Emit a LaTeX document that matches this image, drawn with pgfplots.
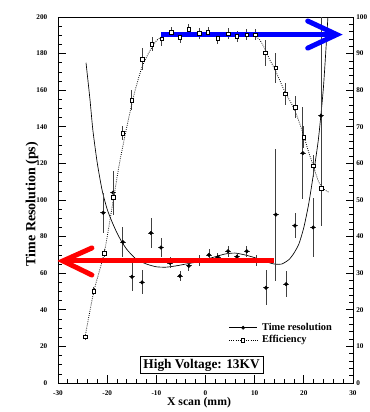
\documentclass[border=0pt]{standalone}
\usepackage{fontspec}
\setmainfont{Liberation Serif}
\usepackage{pgfplots}
\pgfplotsset{compat=1.18}

\pgfplotstableread{
x      y      ex   ey
-20.8  93     0.6  11
-18.8  104    0.6  12
-16.8  77     0.6  8
-14.95 58     0.6  7.5
-12.9  55     0.6  6.5
-11.1  82     0.6  8
-9.05  74     0.6  5
-7.2   65.6   0.6  3
-5.2   58.5   0.6  2.5
-3.4   64     0.6  3
-1.3   67.2   0.6  3
0.7    70     0.6  3
2.5    68.8   0.6  2
4.6    72     0.6  3
6.4    69     0.6  2
8.4    72     0.6  3
10.3   67     0.6  3
12.3   52     0.6  9.5
14.3   92     0.6  36
16.4   54     0.6  7
18.2   86     0.6  7
19.8   125.6  0.6  25
21.9   85     0.6  16
23.5   146    0.6  60
}\timeres

\pgfplotstableread{
x      y
-24.3  175
-23.5  155
-22.9  138
-22    120
-21    105
-20    95
-19    88
-18    82
-17    77
-16    73
-15    70
-14    67.5
-12    65
-10    63.5
-8     63.3
-6     64
-4     65
-2     66
0      67.5
2      69
4      70.5
6      71
8      70
10     68.5
12     66.5
14     65
15.5   65
17     67.5
18     71
19     76
20     85
21     98
22     115
23     134
24     162
24.9   200
}\timefit

\pgfplotstableread{
x      y     ey
-24.5  12.6  0.8
-22.7  25.1  1.0
-20.6  35.5  1.2
-18.8  50.8  1.5
-16.8  68.3  2.0
-15.0  77.3  2.7
-12.9  88.5  3.0
-10.9  92.6  2.0
-8.9   94.0  2.0
-7.0   95.9  1.5
-5.2   94.5  1.5
-3.4   96.7  1.5
-1.3   95.6  1.5
0.5    95.9  1.5
2.5    94.2  1.5
4.6    95.4  1.5
6.4    94.8  1.5
8.4    95.1  1.5
10.1   95.1  1.5
12.1   90.2  3.6
14.3   86.1  4.0
16.2   79.0  3.0
18.2   75.4  3.0
20.0   67.2  3.0
21.9   59.3  3.0
23.5   53.2  3.0
}\eff

\pgfplotstableread{
x      y
-24.5  12.6
-22.7  25.1
-20.6  35.5
-19    48
-17.5  60
-16    70
-14.5  79
-13    86
-12    89
-11    91.5
-10    93.5
-9     94.5
-7     95.2
-4     95.4
0      95.4
4      95.3
8      95.2
10     94.8
11     93.8
12     91.5
13     88.5
14     86
15     83
16     80
17     77.5
18     75
19     71.5
20     67.5
21     63
22     59
23     55
24     53
25     52.2
}\efffit

\begin{document}
\begin{tikzpicture}
\begin{axis}[
  width=221.25pt, height=274.5pt, scale only axis,
  xmin=-30, xmax=30, ymin=0, ymax=200,
  xtick={-30,-20,...,30}, xticklabels={-30,-20,-10,0,10,20,30},
  minor x tick num=4,
  ytick={0,20,...,200}, minor y tick num=3,
  tick align=inside, xtick pos=bottom, ytick pos=left,
  major tick length=6pt, minor tick length=3pt,
  tick style={black, line width=0.5pt},
  axis line style={line width=0.6pt},
  ticklabel style={font=\bfseries\fontsize{5.4}{6}\selectfont},
  yticklabel style={xshift=-4.5pt},
  xticklabel style={yshift=-2pt},
  /pgf/number format/assume math mode=true,
  xlabel={X scan (mm)},
  ylabel={Time Resolution (ps)},
  xlabel style={at={(axis description cs:0.478,-0.0546)}, anchor=center, font=\bfseries\fontsize{8.8}{10}\selectfont},
  ylabel style={at={(axis description cs:-0.088,0.489)}, anchor=center, rotate=0, font=\bfseries\fontsize{10.5}{12}\selectfont},
]
\addplot[black, line width=0.5pt, smooth, tension=0.4] table[x=x,y=y] {\timefit};
\addplot[only marks, mark=*, mark size=1.3pt, black,
  error bars/.cd, x dir=both, x explicit, y dir=both, y explicit,
  error mark=none, error bar style={black!75, line width=0.6pt}]
  table[x=x, y=y, x error=ex, y error=ey] {\timeres};
\end{axis}

\begin{axis}[
  width=221.25pt, height=274.5pt, scale only axis,
  xmin=-30, xmax=30, ymin=0, ymax=100,
  axis x line=none, axis y line*=right,
  ytick={0,10,...,100}, minor y tick num=4,
  tick align=inside,
  major tick length=5.5pt, minor tick length=3pt,
  tick style={black, line width=0.5pt},
  axis line style={line width=0.6pt},
  ticklabel style={font=\bfseries\fontsize{5.4}{6}\selectfont},
  yticklabel style={xshift=-1pt},
  /pgf/number format/assume math mode=true,
  legend style={at={(axis description cs:0.578,0.168)}, anchor=north west,
    draw=none, fill=none, inner sep=0pt, row sep=0.5pt,
    font=\bfseries\fontsize{7.8}{9}\selectfont,
    nodes={inner sep=1pt}},
  legend cell align=left,
]
\addplot[forget plot, black, densely dotted, line width=0.6pt, smooth, tension=0.4] table[x=x,y=y] {\efffit};
\addplot[forget plot, only marks, mark=square*, mark size=1.4pt, black, mark options={fill=white, line width=0.5pt},
  error bars/.cd, y dir=both, y explicit,
  error mark=none, error bar style={black!75, line width=0.6pt}]
  table[x=x, y=y, y error=ey] {\eff};

\addlegendimage{legend image code/.code={
  \draw[black, line width=0.5pt] (0pt,0pt) -- (21pt,0pt);
  \fill[black] (10.5pt,0pt) circle (1.2pt);
  \path (23.5pt,0pt);}}
\addlegendentry{Time resolution}
\addlegendimage{legend image code/.code={
  \draw[black, densely dotted, line width=0.6pt] (0pt,0pt) -- (21pt,0pt);
  \draw[black, fill=white, line width=0.5pt] (9.3pt,-1.2pt) rectangle (11.7pt,1.2pt);
  \path (23.5pt,0pt);}}
\addlegendentry{Efficiency}

% annotation arrows
\draw[blue, line width=3.75pt, line cap=butt] (axis cs:-9.05,95.2) -- (axis cs:25.5,95.2);
\draw[blue, line width=3.75pt, line cap=round, line join=miter] (axis cs:20.8,98.9) -- (axis cs:26.7,95.2) -- (axis cs:20.8,91.5);
\draw[red, line width=3.75pt, line cap=butt] (axis cs:-28,33.35) -- (axis cs:13.9,33.35);
\draw[red, line width=3.75pt, line cap=round, line join=miter] (axis cs:-23.1,36.9) -- (axis cs:-29,33.35) -- (axis cs:-23.1,29.5);

\node[draw=black, line width=0.6pt, fill=white, inner xsep=2.5pt, inner ysep=1.5pt,
  font=\bfseries\fontsize{10}{11}\selectfont] at (axis cs:-0.8,4.92) {High Voltage: 13KV};
\end{axis}
\pgfresetboundingbox
\path[use as bounding box] (-43.5pt,-21.75pt) rectangle (234pt,287.25pt);
\end{tikzpicture}
\end{document}
